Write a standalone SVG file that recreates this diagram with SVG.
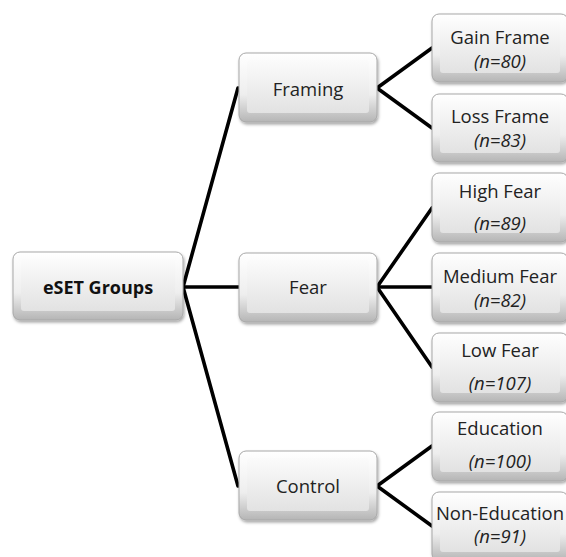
<svg xmlns="http://www.w3.org/2000/svg" width="566" height="557" viewBox="0 0 566 557">
<defs>
<linearGradient id="outer" x1="0" y1="0" x2="0" y2="1">
<stop offset="0" stop-color="#ffffff"/>
<stop offset="0.6" stop-color="#eeeeee"/>
<stop offset="1" stop-color="#b5b5b5"/>
</linearGradient>
<linearGradient id="inner" x1="0" y1="0" x2="0" y2="1">
<stop offset="0" stop-color="#fbfbfb"/>
<stop offset="1" stop-color="#e2e2e2"/>
</linearGradient>
<filter id="sh" x="-10%" y="-10%" width="130%" height="130%">
<feDropShadow dx="1" dy="2" stdDeviation="1.5" flood-color="#000" flood-opacity="0.35"/>
</filter>
</defs>
<style>
.o{fill:url(#outer);stroke:#a8a8a8;stroke-width:1;filter:url(#sh)}
.i{fill:url(#inner);stroke:none}
.t{font-family:"Open Sans","Noto Sans",sans-serif;font-size:18.5px;fill:#222;text-anchor:middle}
.n{font-style:italic}
.b{font-weight:bold;font-size:18px;fill:#111}
.c{stroke:#000;stroke-width:3.6;fill:none;stroke-linecap:round;stroke-linejoin:round}
</style>
<rect width="566" height="557" fill="#fff"/>
<g id="connectors">
<polyline class="c" points="238,88 183,287 238,486"/>
<line class="c" x1="183" y1="287" x2="239" y2="287"/>
<polyline class="c" points="432,48 377,88 432,128"/>
<polyline class="c" points="432,208 377,287 432,367"/>
<line class="c" x1="377" y1="287" x2="432" y2="287"/>
<polyline class="c" points="432,446 377,486 432,526"/>
</g>
<g id="eset">
<rect class="o" x="13" y="252" width="170" height="68" rx="7"/>
<rect class="i" x="21" y="259" width="154" height="52" rx="3"/>
<text class="t b" x="98" y="294">eSET Groups</text>
</g>
<g id="framing">
<rect class="o" x="239" y="53" width="138" height="69" rx="7"/>
<rect class="i" x="247" y="60" width="122" height="53" rx="3"/>
<text class="t" x="308" y="96">Framing</text>
</g>
<g id="fear">
<rect class="o" x="239" y="253" width="138" height="69" rx="7"/>
<rect class="i" x="247" y="260" width="122" height="53" rx="3"/>
<text class="t" x="308" y="294">Fear</text>
</g>
<g id="control">
<rect class="o" x="239" y="451" width="138" height="69" rx="7"/>
<rect class="i" x="247" y="458" width="122" height="53" rx="3"/>
<text class="t" x="308" y="493">Control</text>
</g>
<g id="gain">
<rect class="o" x="432" y="14" width="136" height="68" rx="7"/>
<rect class="i" x="440" y="21" width="120" height="52" rx="3"/>
<text class="t" x="500" y="44">Gain Frame</text>
<text class="t n" x="500" y="68">(n=80)</text>
</g>
<g id="loss">
<rect class="o" x="432" y="94" width="136" height="68" rx="7"/>
<rect class="i" x="440" y="101" width="120" height="52" rx="3"/>
<text class="t" x="500" y="123">Loss Frame</text>
<text class="t n" x="500" y="147">(n=83)</text>
</g>
<g id="high">
<rect class="o" x="432" y="173" width="136" height="69" rx="7"/>
<rect class="i" x="440" y="180" width="120" height="53" rx="3"/>
<text class="t" x="500" y="198">High Fear</text>
<text class="t n" x="500" y="230">(n=89)</text>
</g>
<g id="medium">
<rect class="o" x="432" y="253" width="136" height="69" rx="7"/>
<rect class="i" x="440" y="260" width="120" height="53" rx="3"/>
<text class="t" x="500" y="283">Medium Fear</text>
<text class="t n" x="500" y="307">(n=82)</text>
</g>
<g id="low">
<rect class="o" x="432" y="333" width="136" height="69" rx="7"/>
<rect class="i" x="440" y="340" width="120" height="53" rx="3"/>
<text class="t" x="500" y="357">Low Fear</text>
<text class="t n" x="500" y="390">(n=107)</text>
</g>
<g id="education">
<rect class="o" x="432" y="412" width="136" height="69" rx="7"/>
<rect class="i" x="440" y="419" width="120" height="53" rx="3"/>
<text class="t" x="500" y="435">Education</text>
<text class="t n" x="500" y="468">(n=100)</text>
</g>
<g id="noneducation">
<rect class="o" x="432" y="492" width="136" height="69" rx="7"/>
<rect class="i" x="440" y="499" width="120" height="53" rx="3"/>
<text class="t" x="500" y="520">Non-Education</text>
<text class="t n" x="500" y="543">(n=91)</text>
</g>
</svg>
